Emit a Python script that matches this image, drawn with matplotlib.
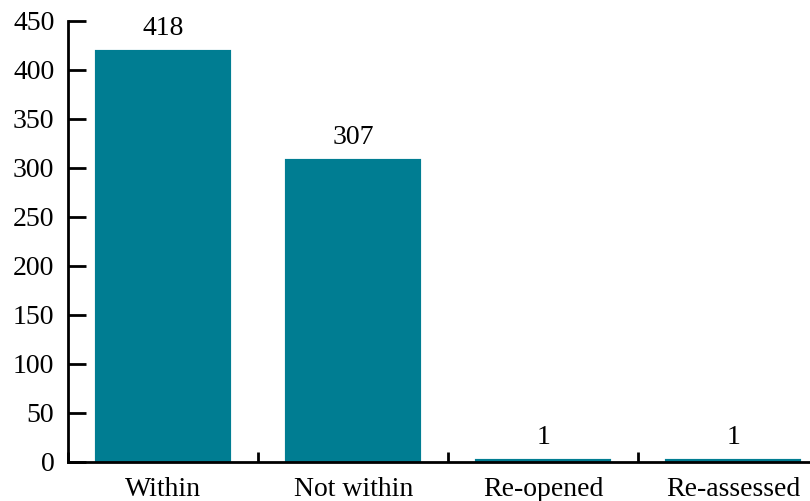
import matplotlib.pyplot as plt
import numpy as np

categories = ["Within", "Not within", "Re-opened", "Re-assessed"]
counts = [418, 307, 1, 1]
yticks = [0, 50, 100, 150, 200, 250, 300, 350, 400, 450]

plt.rcParams["font.family"] = ["Liberation Serif", "DejaVu Serif"]
plt.rcParams["font.size"] = 20

bar_color = "#007d92"

fig = plt.figure(figsize=(8.1, 5.01), dpi=100)
ax = fig.add_axes([0.0843, 0.0784, 0.938, 0.8803])

x = np.arange(len(categories))
bars = ax.bar(x, counts, width=0.695, color=bar_color, edgecolor=bar_color,
              linewidth=3, zorder=2)

for xi, v in zip(x, counts):
    ax.annotate(str(v), (xi, v), xytext=(0, 8), textcoords="offset points",
                ha="center", va="bottom")

ax.set_xlim(-0.5, len(categories) - 0.5)
ax.set_ylim(0, 450)
ax.set_yticks(yticks)

# category labels sit in the middle, tick marks sit between categories
ax.set_xticks(x)
ax.set_xticklabels(categories)
ax.set_xticks(np.arange(len(categories) + 1) - 0.5, minor=True)
ax.tick_params(axis="x", which="major", length=0, pad=11)
ax.tick_params(axis="x", which="minor", direction="in", length=7, width=2)
ax.tick_params(axis="y", direction="in", length=13, width=2, pad=10)

for side in ["top", "right"]:
    ax.spines[side].set_visible(False)
for side in ["left", "bottom"]:
    ax.spines[side].set_linewidth(2)

plt.savefig("out.png", dpi=100)
